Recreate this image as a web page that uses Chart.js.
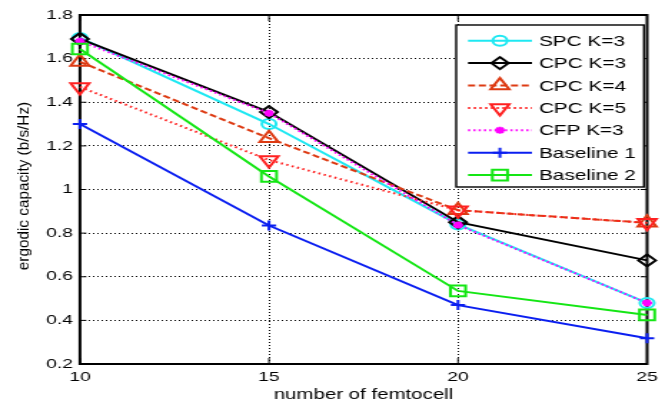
<!DOCTYPE html>
<html>
<head>
<meta charset="utf-8">
<script src="https://cdn.jsdelivr.net/npm/chart.js@4/dist/chart.umd.min.js"></script>
<style>
html, body { margin: 0; padding: 0; background: #fff; overflow: hidden; }
/* the reference figure is stretched sideways, so draw narrow and widen it */
#wrap { width: 465px; height: 408px; transform: scaleX(1.43); transform-origin: 0 0; }
</style>
</head>
<body>
<div id="wrap"><canvas id="chart" width="465" height="408"></canvas></div>
<script>
//Data
const femtocells = [10, 15, 20, 25];
const seriesNames = ["SPC K=3", "CPC K=3", "CPC K=4", "CPC K=5", "CFP K=3", "Baseline 1", "Baseline 2"];
const spcK3 = [1.695, 1.30, 0.84, 0.48];
const cpcK3 = [1.69, 1.355, 0.85, 0.675];
const cpcK4 = [1.585, 1.235, 0.905, 0.847];
const cpcK5 = [1.47, 1.135, 0.905, 0.847];
const cfpK3 = [1.68, 1.35, 0.837, 0.48];
const baseline1 = [1.30, 0.835, 0.47, 0.318];
const baseline2 = [1.644, 1.06, 0.535, 0.425];
const yTicks = [0.2, 0.4, 0.6, 0.8, 1, 1.2, 1.4, 1.6, 1.8];
const xTicks = [10, 15, 20, 25];

const values = [spcK3, cpcK3, cpcK4, cpcK5, cfpK3, baseline1, baseline2];
const colors = ["#1ee8f2", "#000000", "#dd3a12", "#ff2020", "#ff00ff", "#0a1ef0", "#14e614"];
const dashes = [[], [], [5, 2.5], [1.5, 2.5], [1.5, 2.2], [], []];
const markers = ["circle", "rectRot", "triangle", "triangle", "star", "cross", "rect"];
const markerSize = [5, 6, 7.5, 7.5, 3.5, 5, 7.5];
const markerRot = [0, 0, 0, 180, 0, 0, 0];

const datasets = seriesNames.map(function(name, i){
    return {
        label: name,
        data: femtocells.map(function(x, j){ return {x: x, y: values[i][j]}; }),
        borderColor: colors[i],
        borderWidth: 2,
        borderDash: dashes[i],
        pointStyle: markers[i],
        pointRadius: markerSize[i],
        pointRotation: markerRot[i],
        pointBorderColor: colors[i],
        pointBackgroundColor: i == 4 ? colors[i] : "rgba(0,0,0,0)",
        pointBorderWidth: 2,
        tension: 0,
        clip: false,
        order: seriesNames.length - i
    };
});

const FONT = "'Liberation Sans', Arial, sans-serif";

//Axes box with inward tick marks
const frame = {
    id: "frame",
    beforeDatasetsDraw(chart){
        const ctx = chart.ctx, a = chart.chartArea;
        const xs = chart.scales.x, ys = chart.scales.y;
        ctx.save();
        ctx.strokeStyle = "#000";
        ctx.lineWidth = 1;
        ctx.setLineDash([]);
        xTicks.forEach(function(v){
            const p = xs.getPixelForValue(v);
            ctx.beginPath();
            ctx.moveTo(p, a.bottom); ctx.lineTo(p, a.bottom - 6);
            ctx.moveTo(p, a.top); ctx.lineTo(p, a.top + 6);
            ctx.stroke();
        });
        yTicks.forEach(function(v){
            const p = ys.getPixelForValue(v);
            ctx.beginPath();
            ctx.moveTo(a.left, p); ctx.lineTo(a.left + 4.5, p);
            ctx.moveTo(a.right, p); ctx.lineTo(a.right - 4.5, p);
            ctx.stroke();
        });
        ctx.lineWidth = 2;
        ctx.strokeRect(a.left, a.top, a.right - a.left, a.bottom - a.top);
        ctx.restore();
    }
};

//Y title, drawn by hand so it is not widened like the rest
const yTitle = {
    id: "yTitle",
    afterDraw(chart){
        const ctx = chart.ctx;
        ctx.save();
        ctx.translate(17, 186);
        ctx.rotate(-Math.PI / 2);
        ctx.scale(1, 1 / 1.43);
        ctx.fillStyle = "#000";
        ctx.font = "15.3px " + FONT;
        ctx.textAlign = "center";
        ctx.textBaseline = "middle";
        ctx.fillText("ergodic capacity (b/s/Hz)", 0, 0);
        ctx.restore();
    }
};

//Matlab style legend box
const boxLegend = {
    id: "boxLegend",
    afterDraw(chart){
        const ctx = chart.ctx;
        const left = 319, top = 25, right = 450.3, bottom = 187;
        ctx.save();
        ctx.fillStyle = "#fff";
        ctx.fillRect(left, top, right - left, bottom - top);
        ctx.strokeStyle = "#000";
        ctx.lineWidth = 1.4;
        ctx.strokeRect(left, top, right - left, bottom - top);
        chart.data.datasets.forEach(function(ds, i){
            const y = 40.7 + i * 22.4;
            ctx.strokeStyle = ds.borderColor;
            ctx.lineWidth = 2;
            ctx.setLineDash(ds.borderDash);
            ctx.beginPath();
            ctx.moveTo(327.3, y); ctx.lineTo(372, y);
            ctx.stroke();
            ctx.setLineDash([]);
            ctx.fillStyle = ds.pointBackgroundColor;
            Chart.helpers.drawPoint(ctx, {
                pointStyle: ds.pointStyle,
                radius: ds.pointRadius,
                rotation: ds.pointRotation,
                borderWidth: 2
            }, 349.6, y);
            ctx.fillStyle = "#000";
            ctx.font = "14.5px " + FONT;
            ctx.textBaseline = "middle";
            ctx.fillText(ds.label, 376.9, y + 1);
        });
        ctx.restore();
    }
};

new Chart(document.getElementById("chart"), {
    type: "line",
    data: { datasets: datasets },
    options: {
        responsive: false,
        animation: false,
        events: [],
        layout: { padding: { left: 0, right: 7, top: 15, bottom: 0 } },
        plugins: { legend: { display: false }, tooltip: { enabled: false } },
        scales: {
            x: {
                type: "linear",
                min: 10, max: 25,
                afterFit: function(scale){ scale.height = 44; },
                afterBuildTicks: function(scale){ scale.ticks = xTicks.map(function(v){ return {value: v}; }); },
                ticks: { color: "#000", font: { family: FONT, size: 13.5 }, padding: 5, maxRotation: 0 },
                grid: { color: "#000", lineWidth: 1, drawTicks: false },
                border: { display: false, dash: [1, 2] },
                title: { display: true, text: "number of femtocell", color: "#000",
                         font: { family: FONT, size: 14.3 }, padding: { top: 0, bottom: 4 } }
            },
            y: {
                min: 0.2, max: 1.8,
                afterFit: function(scale){ scale.width = 55.9; },
                afterBuildTicks: function(scale){ scale.ticks = yTicks.map(function(v){ return {value: v}; }); },
                ticks: { color: "#000", font: { family: FONT, size: 13.5 }, padding: 4.8,
                         callback: function(v){ return String(Math.round(v * 10) / 10); } },
                grid: { color: "#000", lineWidth: 1, drawTicks: false },
                border: { display: false, dash: [1, 2] }
            }
        }
    },
    plugins: [frame, yTitle, boxLegend]
});
</script>
</body>
</html>
